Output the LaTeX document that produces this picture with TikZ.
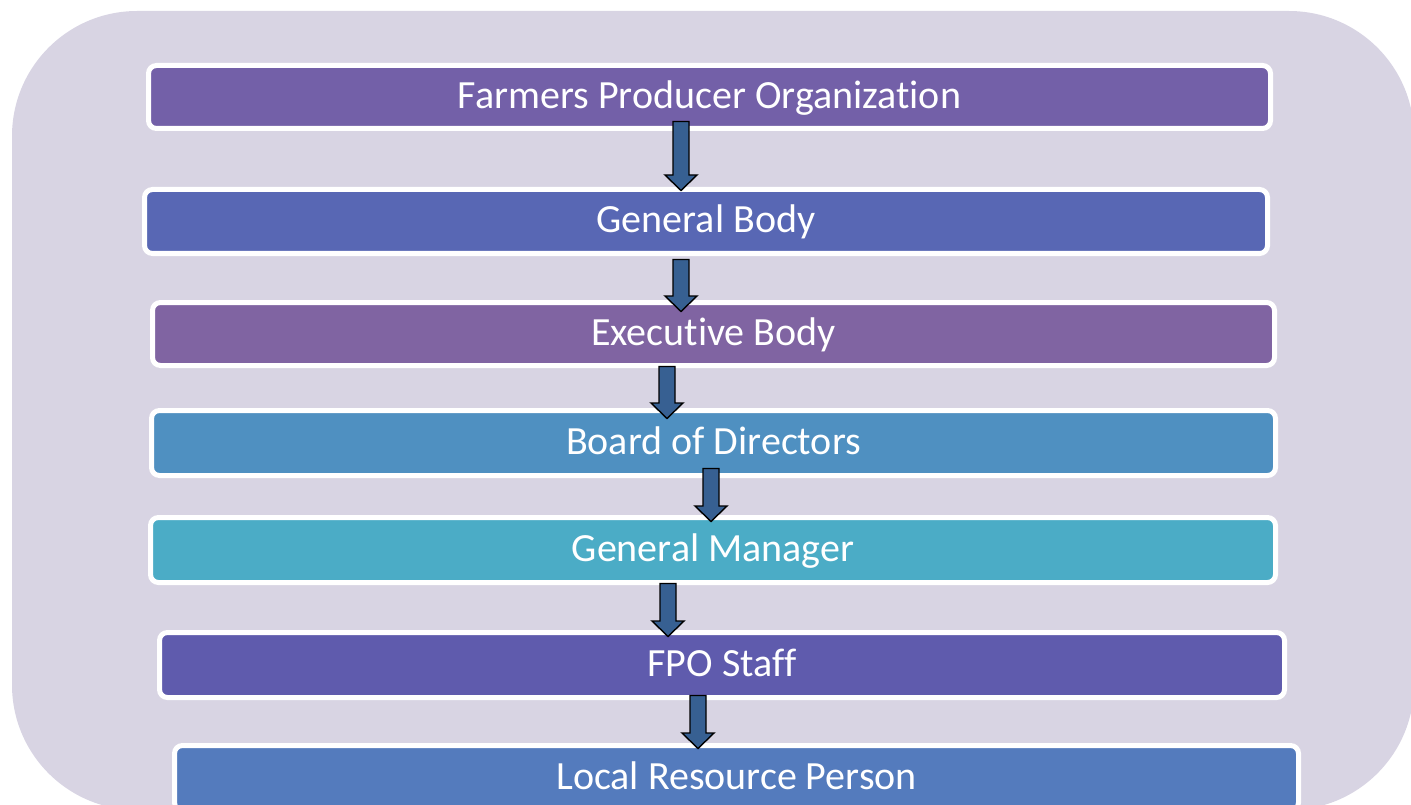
\documentclass[tikz,border=0pt]{standalone}
\usepackage{fontspec}
\setmainfont{Carlito}[Ligatures=NoCommon]
\usetikzlibrary{calc}

\definecolor{panel}{HTML}{D8D4E3}
\definecolor{cFPO}{HTML}{7360A8}
\definecolor{cGB}{HTML}{5867B4}
\definecolor{cEB}{HTML}{8064A2}
\definecolor{cBD}{HTML}{4F90C1}
\definecolor{cGM}{HTML}{4BACC6}
\definecolor{cST}{HTML}{5F5BAD}
\definecolor{cLR}{HTML}{547BBD}
\definecolor{arrowfill}{HTML}{376092}

\tikzset{
  level/.style={draw=white, line width=5pt, rounded corners=8pt,
    inner sep=0pt, text=white, font=\fontsize{40}{46}\selectfont,
    text height=29pt, text depth=6pt, minimum height=64pt},
  blockarrow/.style={fill=arrowfill, draw=black, line width=1.4pt, line join=miter}
}

% #1 upper node, #2 lower node, #3 shaft centre (x),
% #4 tail shift below the upper node's edge, #5 tip shift below the lower node's edge
\newcommand\flowstep[5]{%
  \path[blockarrow] let \p1=(#1.south), \p2=(#2.north),
      \n1={\y1-(#4pt)}, \n2={\y2-(#5pt)}, \n3={\n2+15.5pt} in
    ({#3pt-8pt},\n1) -- ({#3pt+8pt},\n1) -- ({#3pt+8pt},\n3) -- ({#3pt+16pt},\n3)
    -- ({#3pt},\n2) -- ({#3pt-16pt},\n3) -- ({#3pt-8pt},\n3) -- cycle;
}

\begin{document}
\begin{tikzpicture}[x=1pt, y=-1pt]
  \useasboundingbox (0,0) rectangle (1411,805);

  % backing panel
  \fill[panel, rounded corners=125pt] (12,11) rectangle (1414,810);

  % organisation levels
  \node[level, fill=cFPO, minimum width=1122pt, minimum height=63pt] (fpo) at (709.5,97) {Farmers Producer Organization};
  \node[level, fill=cGB, minimum width=1123pt] (gb) at (706,221.5) {General Body};
  \node[level, fill=cEB, minimum width=1122pt, minimum height=63pt] (eb) at (713.5,334) {Executive Body};
  \node[level, fill=cBD, minimum width=1124pt, minimum height=65pt] (bod) at (713.5,443) {Board of Directors};
  \node[level, fill=cGM, minimum width=1125pt, minimum height=65pt] (gm) at (713,550) {General Manager};
  \node[level, fill=cST, minimum width=1125pt, minimum height=65pt] (staff) at (722,665) {FPO Staff};
  \node[level, fill=cLR, minimum width=1124pt, minimum height=65pt] (lrp) at (736.5,778) {Local Resource Person};

  % reporting arrows
  \flowstep{fpo}{gb}{681}{-9.5}{3.5}
  \flowstep{gb}{eb}{681}{3.5}{11.5}
  \flowstep{eb}{bod}{667}{-1.5}{10.5}
  \flowstep{bod}{gm}{711}{-9.5}{6.5}
  \flowstep{gm}{staff}{668}{-1.5}{6.5}
  \flowstep{staff}{lrp}{698}{-4.5}{5.5}
\end{tikzpicture}
\end{document}
